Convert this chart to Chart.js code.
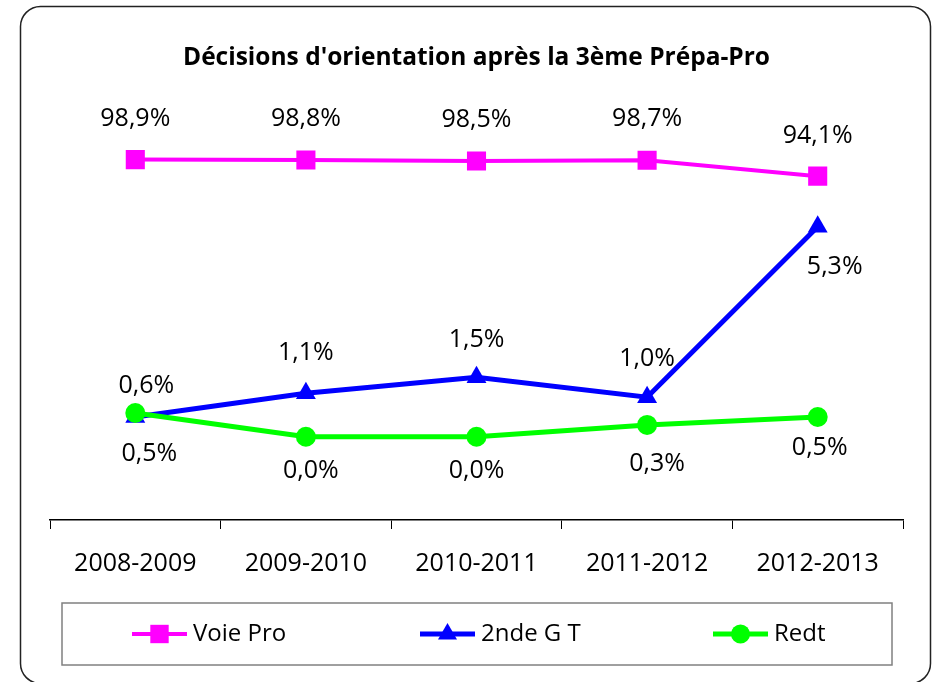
<!DOCTYPE html>
<html>
<head>
<meta charset="utf-8">
<script src="https://cdn.jsdelivr.net/npm/chart.js@4.4.1/dist/chart.umd.min.js"></script>
<style>
  html, body { margin: 0; padding: 0; background: #fff; }
  canvas { display: block; }
</style>
</head>
<body>
<canvas id="orientationChart" width="934" height="682"></canvas>
<script>
// donnees
const categories = ["2008-2009", "2009-2010", "2010-2011", "2011-2012", "2012-2013"];
const voiePro = [98.9, 98.8, 98.5, 98.7, 94.1];
const secondeGT = [0.5, 1.1, 1.5, 1.0, 5.3];
const redt = [0.6, 0.0, 0.0, 0.3, 0.5];
const seriesNames = ["Voie Pro", "2nde G T", "Redt"];

// decalage des etiquettes (dx, dy) par point
const labelOffsets = [
    [[0, -41], [0, -41], [0, -41], [0, -41], [0, -40]],
    [[14, 37], [0, -40], [0, -37], [0, -38], [17, 40]],
    [[11, -27], [5, 34], [0, 34], [10, 39], [2, 31]],
];

Chart.defaults.font.family = "'Open Sans', 'Noto Sans', sans-serif";
Chart.defaults.color = "#000";

const fmt = (v) => v.toFixed(1).replace(".", ",") + "%";

// cadre arrondi autour du graphique
const frame = {
    id: "frame",
    beforeDraw(chart) {
        const ctx = chart.ctx;
        ctx.save();
        ctx.fillStyle = "#fff";
        ctx.fillRect(0, 0, chart.width, chart.height);
        ctx.beginPath();
        ctx.roundRect(20.5, 6.5, 910, 677, 20);
        ctx.lineWidth = 1.5;
        ctx.strokeStyle = "#222";
        ctx.stroke();
        ctx.restore();
    },
};

// etiquettes de valeurs
const valueLabels = {
    id: "valueLabels",
    afterDatasetsDraw(chart) {
        const ctx = chart.ctx;
        ctx.save();
        ctx.font = "25px 'Open Sans'";
        ctx.fillStyle = "#000";
        ctx.textAlign = "center";
        ctx.textBaseline = "middle";
        chart.data.datasets.forEach((ds, i) => {
            const meta = chart.getDatasetMeta(i);
            meta.data.forEach((pt, j) => {
                const off = labelOffsets[i][j];
                ctx.fillText(fmt(ds.data[j]), pt.x + off[0], pt.y + off[1]);
            });
        });
        ctx.restore();
    },
};

// legende encadree en bas
const boxLegend = {
    id: "boxLegend",
    afterDraw(chart) {
        const ctx = chart.ctx;
        ctx.save();
        ctx.strokeStyle = "#808080";
        ctx.lineWidth = 1.5;
        ctx.strokeRect(62, 603, 830, 62);
        const xs = [132, 420, 713];
        const cy = 634;
        chart.data.datasets.forEach((ds, i) => {
            const x0 = xs[i];
            ctx.beginPath();
            ctx.moveTo(x0, cy);
            ctx.lineTo(x0 + 55, cy);
            ctx.strokeStyle = ds.borderColor;
            ctx.lineWidth = ds.borderWidth;
            ctx.stroke();
            ctx.fillStyle = ds.backgroundColor;
            Chart.helpers.drawPoint(ctx, {
                pointStyle: ds.pointStyle,
                radius: ds.legendRadius,
                borderWidth: 0,
            }, x0 + 27.5, cy);
            ctx.fillStyle = "#000";
            ctx.font = "24px 'Open Sans'";
            ctx.textAlign = "left";
            ctx.textBaseline = "middle";
            ctx.fillText(ds.label, x0 + 61, cy);
        });
        ctx.restore();
    },
};

const data = {
    labels: categories,
    datasets: [
        {
            label: seriesNames[0],
            data: voiePro,
            yAxisID: "y2",
            borderColor: "#ff00ff",
            backgroundColor: "#ff00ff",
            borderWidth: 4,
            pointStyle: "rect",
            pointRadius: 13.5,
            pointBorderWidth: 0,
            legendRadius: 13,
            order: 2,
        },
        {
            label: seriesNames[1],
            data: secondeGT,
            yAxisID: "y",
            borderColor: "#0000ff",
            backgroundColor: "#0000ff",
            borderWidth: 5,
            pointStyle: "triangle",
            pointRadius: 11.5,
            pointBorderWidth: 0,
            legendRadius: 11,
            order: 1,
        },
        {
            label: seriesNames[2],
            data: redt,
            yAxisID: "y",
            borderColor: "#00ff00",
            backgroundColor: "#00ff00",
            borderWidth: 5,
            pointStyle: "circle",
            pointRadius: 10,
            pointBorderWidth: 0,
            legendRadius: 9.5,
            order: 0,
        },
    ],
};

const config = {
    type: "line",
    data: data,
    options: {
        responsive: false,
        animation: false,
        layout: {
            padding: { left: 50, right: 31, top: 0, bottom: 83 },
        },
        plugins: {
            legend: { display: false },
            tooltip: { enabled: false },
            title: {
                display: true,
                text: "Décisions d'orientation après la 3ème Prépa-Pro",
                font: { size: 24.5, weight: "bold" },
                color: "#000",
                padding: { top: 43, bottom: 27.6 },
            },
        },
        scales: {
            x: {
                offset: true,
                grid: {
                    offset: true,
                    drawOnChartArea: false,
                    tickLength: 9,
                    color: "#000",
                    lineWidth: 1,
                },
                border: { color: "#000", width: 1.5 },
                ticks: { font: { size: 25 }, padding: 20, color: "#000" },
            },
            y: {
                display: false,
                min: -2.1,
                max: 8.5,
            },
            y2: {
                display: false,
                min: -5.7,
                max: 116.2,
            },
        },
    },
    plugins: [frame, valueLabels, boxLegend],
};

var ctx = document.getElementById("orientationChart").getContext("2d");
var orientationChart = new Chart(ctx, config);
</script>
</body>
</html>
